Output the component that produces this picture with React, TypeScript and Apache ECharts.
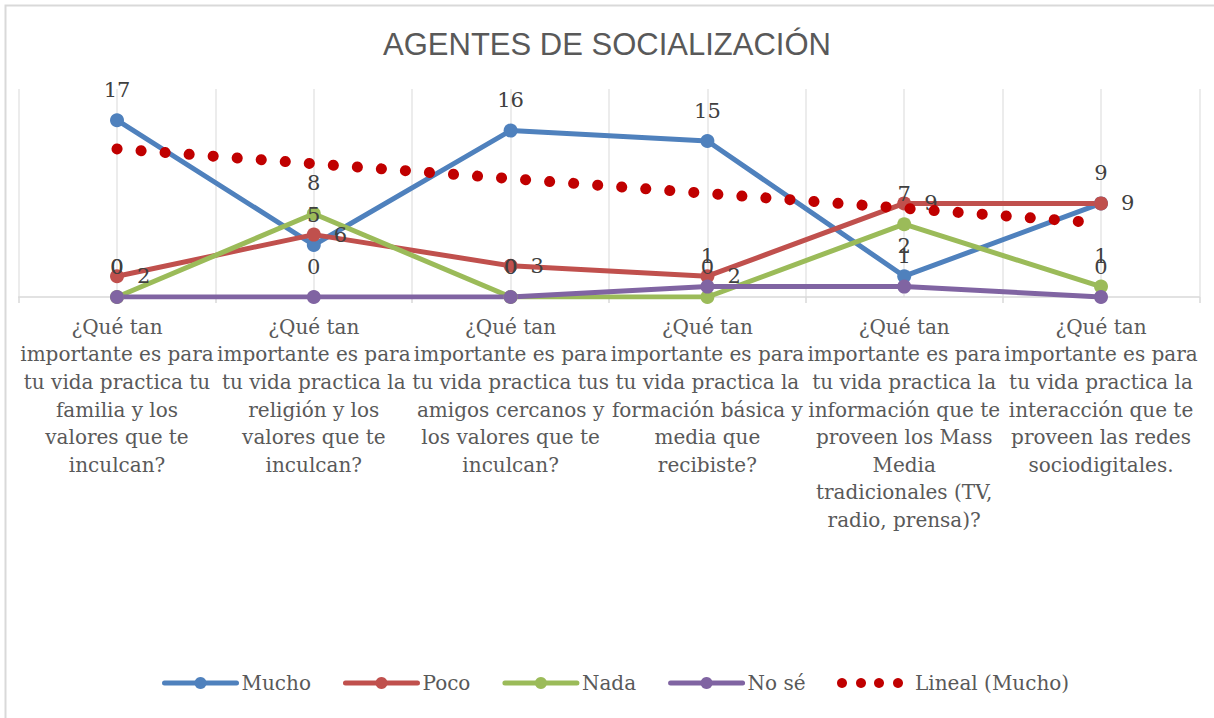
import React, { useEffect, useRef } from "react";
import * as echarts from "echarts";

const categories = [
  "¿Qué tan\nimportante es para\ntu vida practica tu\nfamilia y los\nvalores que te\ninculcan?",
  "¿Qué tan\nimportante es para\ntu vida practica la\nreligión y los\nvalores que te\ninculcan?",
  "¿Qué tan\nimportante es para\ntu vida practica tus\namigos cercanos y\nlos valores que te\ninculcan?",
  "¿Qué tan\nimportante es para\ntu vida practica la\nformación básica y\nmedia que\nrecibiste?",
  "¿Qué tan\nimportante es para\ntu vida practica la\ninformación que te\nproveen los Mass\nMedia\ntradicionales (TV,\nradio, prensa)?",
  "¿Qué tan\nimportante es para\ntu vida practica la\ninteracción que te\nproveen las redes\nsociodigitales.",
];

const mucho = [17, 5, 16, 15, 2, 9];
const poco = [2, 6, 3, 2, 9, 9];
const nada = [0, 8, 0, 0, 7, 1];
const noSe = [0, 0, 0, 1, 1, 0];
const linealMucho = [14.24, null, null, null, null, 7.1];

const TITLE = "AGENTES DE SOCIALIZACIÓN";
const TREND_NAME = "Lineal (Mucho)";
const SERIF = "DejaVu Serif";
const TREND_COLOR = "#C00000";

export default function App() {
  const ref = useRef<HTMLDivElement>(null);
  useEffect(() => {
    if (!ref.current) return;
    const chart = echarts.init(ref.current, undefined, { renderer: "svg" });
    const labelText = { fontFamily: SERIF, fontSize: 21, color: "#404040" };
    const mk = (name: string, data: number[], color: string, pos: string) => ({
      name,
      type: "line",
      data,
      symbol: "circle",
      symbolSize: 14,
      showAllSymbol: true,
      lineStyle: { width: 5, color, cap: "round", join: "round" },
      itemStyle: { color },
      label: { show: true, position: pos, distance: 13, ...labelText },
      z: 3,
    });
    const legendItem = (name: string) => ({ name, lineStyle: { width: 5 } });

    // custom legend entry for the trend line (four dots + text)
    const legendY = 683;
    const dotXs = [842, 861, 879, 898];
    const trendLegend = [
      ...dotXs.map((cx) => ({
        type: "circle",
        shape: { cx, cy: legendY, r: 5 },
        style: { fill: TREND_COLOR },
        silent: true,
      })),
      {
        type: "text",
        x: 915,
        y: legendY,
        style: {
          text: TREND_NAME,
          fontFamily: SERIF,
          fontSize: 20,
          fill: "#595959",
          verticalAlign: "middle",
          align: "left",
        },
        silent: true,
      },
    ];

    chart.setOption({
      animation: false,
      title: {
        text: TITLE,
        left: "center",
        top: 24,
        textStyle: { fontFamily: "Liberation Sans", fontSize: 31, fontWeight: "normal", color: "#595959" },
      },
      legend: {
        top: 673,
        left: 162,
        padding: 0,
        itemWidth: 72,
        itemHeight: 15,
        itemGap: 32,
        textStyle: { fontFamily: SERIF, fontSize: 20, color: "#595959" },
        data: [legendItem("Mucho"), legendItem("Poco"), legendItem("Nada"), legendItem("No sé")],
      },
      graphic: [
        {
          type: "rect",
          shape: { x: 5.5, y: 5.5, width: 1400, height: 900 },
          style: { fill: "none", stroke: "#d9d9d9", lineWidth: 2 },
          silent: true,
        },
        ...trendLegend,
      ],
      grid: { left: 18.6, right: 14.6, top: 89, bottom: 421, containLabel: false },
      xAxis: [
        {
          type: "category",
          data: categories,
          boundaryGap: true,
          axisLine: { show: true, lineStyle: { color: "#d9d9d9", width: 1.5 } },
          axisTick: { show: true, length: 6, lineStyle: { color: "#d9d9d9", width: 1.5 } },
          axisLabel: {
            interval: 0,
            margin: 16,
            fontFamily: SERIF,
            fontSize: 20,
            lineHeight: 27.6,
            color: "#595959",
            align: "center",
          },
          splitLine: { show: false },
        },
        {
          type: "value",
          min: 0,
          max: 12,
          interval: 1,
          show: true,
          axisLine: { show: false },
          axisTick: { show: false },
          axisLabel: { show: false },
          splitLine: { show: true, lineStyle: { color: "#e6e6e6", width: 1.5 } },
        },
      ],
      yAxis: {
        type: "value",
        min: 0,
        max: 20,
        show: false,
        splitLine: { show: false },
      },
      series: [
        mk("Mucho", mucho, "#4F81BD", "top"),
        mk("Poco", poco, "#C0504D", "right"),
        mk("Nada", nada, "#9BBB59", "top"),
        mk("No sé", noSe, "#8064A2", "top"),
        {
          name: TREND_NAME,
          type: "line",
          data: linealMucho,
          connectNulls: true,
          symbol: "none",
          itemStyle: { color: TREND_COLOR },
          lineStyle: { width: 11, color: TREND_COLOR, type: [0.1, 24], cap: "round" },
          z: 4,
        },
      ],
    });
    return () => chart.dispose();
  }, []);
  return (
    <div
      ref={ref}
      style={{ position: "fixed", left: 0, top: 0, width: 1214, height: 718, background: "#fff" }}
    />
  );
}
